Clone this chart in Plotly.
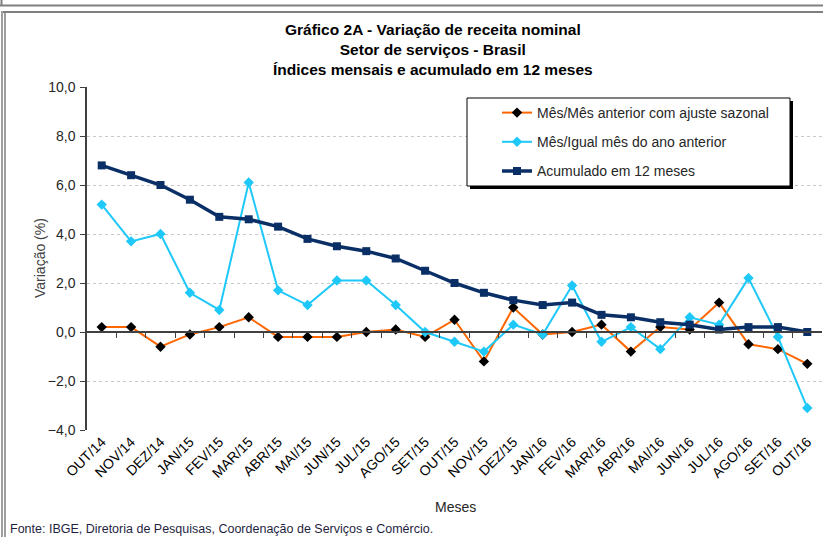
import plotly.graph_objects as go

meses = ["OUT/14", "NOV/14", "DEZ/14", "JAN/15", "FEV/15", "MAR/15", "ABR/15", "MAI/15",
         "JUN/15", "JUL/15", "AGO/15", "SET/15", "OUT/15", "NOV/15", "DEZ/15", "JAN/16",
         "FEV/16", "MAR/16", "ABR/16", "MAI/16", "JUN/16", "JUL/16", "AGO/16", "SET/16", "OUT/16"]

mes_mes = [0.2, 0.2, -0.6, -0.1, 0.2, 0.6, -0.2, -0.2, -0.2, 0.0, 0.1, -0.2, 0.5,
           -1.2, 1.0, -0.1, 0.0, 0.3, -0.8, 0.2, 0.1, 1.2, -0.5, -0.7, -1.3]

mes_igual = [5.2, 3.7, 4.0, 1.6, 0.9, 6.1, 1.7, 1.1, 2.1, 2.1, 1.1, 0.0, -0.4,
             -0.8, 0.3, -0.1, 1.9, -0.4, 0.2, -0.7, 0.6, 0.3, 2.2, -0.2, -3.1]

acumulado = [6.8, 6.4, 6.0, 5.4, 4.7, 4.6, 4.3, 3.8, 3.5, 3.3, 3.0, 2.5, 2.0,
             1.6, 1.3, 1.1, 1.2, 0.7, 0.6, 0.4, 0.3, 0.1, 0.2, 0.2, 0.0]

y_ticks = [-4, -2, 0, 2, 4, 6, 8, 10]

W, H = 823, 537
L, R, T, B = 87, 822, 87, 430   # plot area in pixels
PW, PH = R - L, B - T


def px(x):
    return (x - L) / PW


def py(y):
    return (B - y) / PH


FONT = "Liberation Sans, Arial, sans-serif"

fig = go.Figure()

fig.add_trace(go.Scatter(
    x=meses, y=mes_mes, name="Mês/Mês anterior com ajuste sazonal",
    mode="lines+markers", legendgroup="a",
    line=dict(color="#FF6600", width=2),
    marker=dict(symbol="diamond", size=8, color="black"),
))
fig.add_trace(go.Scatter(
    x=meses, y=mes_igual, name="Mês/Igual mês do ano anterior",
    mode="lines+markers", legendgroup="b",
    line=dict(color="#1EC8F8", width=2),
    marker=dict(symbol="diamond", size=8, color="#1EC8F8"),
))
fig.add_trace(go.Scatter(
    x=meses, y=acumulado, name="Acumulado em 12 meses",
    mode="lines+markers", legendgroup="c",
    line=dict(color="#0A2F66", width=3.5),
    marker=dict(symbol="square", size=8, color="#0A2F66"),
))
# helper trace for the zero-crossing category axis
fig.add_trace(go.Scatter(x=[None], y=[None], xaxis="x2", showlegend=False, hoverinfo="skip"))

n = len(meses)
boundaries = [i + 0.5 for i in range(n - 1)]

shapes = []
# outer window frame
shapes.append(dict(type="line", xref="paper", yref="paper", x0=px(0), x1=px(W), y0=py(5.5), y1=py(5.5),
                   line=dict(color="#7F7F7F", width=2)))
shapes.append(dict(type="line", xref="paper", yref="paper", x0=px(1.5), x1=px(1.5), y0=py(0), y1=py(6),
                   line=dict(color="#7F7F7F", width=2)))
shapes.append(dict(type="line", xref="paper", yref="paper", x0=px(3), x1=px(W), y0=py(12), y1=py(12),
                   line=dict(color="#7F7F7F", width=2)))
shapes.append(dict(type="line", xref="paper", yref="paper", x0=px(2), x1=px(2), y0=py(11), y1=py(H),
                   line=dict(color="#7F7F7F", width=1.5)))
shapes.append(dict(type="line", xref="paper", yref="paper", x0=px(5), x1=px(5), y0=py(11), y1=py(H),
                   line=dict(color="#7F7F7F", width=1.5)))
# legend box with shadow
shapes.append(dict(type="rect", xref="paper", yref="paper", x0=px(470), x1=px(793), y0=py(101), y1=py(189),
                   fillcolor="black", line=dict(width=0), layer="above"))
shapes.append(dict(type="rect", xref="paper", yref="paper", x0=px(467), x1=px(790), y0=py(98), y1=py(186),
                   fillcolor="white", line=dict(color="black", width=1), layer="above"))

annotations = [
    dict(text="<b>Gráfico 2A - Variação de receita nominal</b><br><b>Setor de serviços - Brasil</b><br>"
              "<b>Índices mensais e acumulado em 12 meses</b>",
         xref="paper", yref="paper", x=px(433), y=py(49), xanchor="center", yanchor="middle",
         showarrow=False, font=dict(family=FONT, size=15.5, color="black"), align="center"),
    dict(text="Variação (%)", xref="paper", yref="paper", x=px(40), y=py(258), textangle=-90,
         xanchor="center", yanchor="middle", showarrow=False,
         font=dict(family=FONT, size=14, color="#404040")),
    dict(text="Meses", xref="paper", yref="paper", x=px(455), y=py(507),
         xanchor="center", yanchor="middle", showarrow=False,
         font=dict(family=FONT, size=14, color="#262626")),
    dict(text="Fonte: IBGE, Diretoria de Pesquisas, Coordenação de Serviços e Comércio.",
         xref="paper", yref="paper", x=px(8), y=py(529), xanchor="left", yanchor="middle",
         showarrow=False, font=dict(family=FONT, size=12.5, color="#1F1F3F")),
]

fig.update_layout(
    width=W, height=H,
    margin=dict(l=L, r=W - R, t=T, b=H - B, pad=0),
    paper_bgcolor="white", plot_bgcolor="white",
    separators=",.",
    font=dict(family=FONT, size=14, color="#262626"),
    showlegend=True,
    legend=dict(x=px(497), y=py(97), xanchor="left", yanchor="top",
                bgcolor="rgba(0,0,0,0)", borderwidth=0,
                traceorder="grouped", tracegroupgap=8,
                font=dict(family=FONT, size=14, color="#262626"), itemwidth=30),
    xaxis=dict(type="category", range=[-0.5, n - 0.5], showgrid=False, showline=False,
               ticks="", tickangle=-45, tickfont=dict(family=FONT, size=14, color="black"),
               zeroline=False),
    xaxis2=dict(overlaying="x", anchor="free", position=(0 - (-4)) / 14, range=[-0.5, n - 0.5],
                showline=True, linecolor="#404040", linewidth=1.5, ticks="outside", ticklen=5,
                tickcolor="#404040", tickvals=boundaries, showticklabels=False, showgrid=False,
                zeroline=False, side="bottom"),
    yaxis=dict(range=[-4, 10], tickvals=y_ticks, tickformat=".1f", showline=True,
               linecolor="#404040", linewidth=1.5, ticks="outside", ticklen=5, tickcolor="#404040",
               ticklabelstandoff=2,
               showgrid=True, gridcolor="#C8C8C8", griddash="3px,3px", gridwidth=1,
               zeroline=False, tickfont=dict(family=FONT, size=14, color="#262626")),
    shapes=shapes,
    annotations=annotations,
)

fig.write_html("out.html", config={"displayModeBar": False},
               post_script="document.body.style.margin='0px';")
